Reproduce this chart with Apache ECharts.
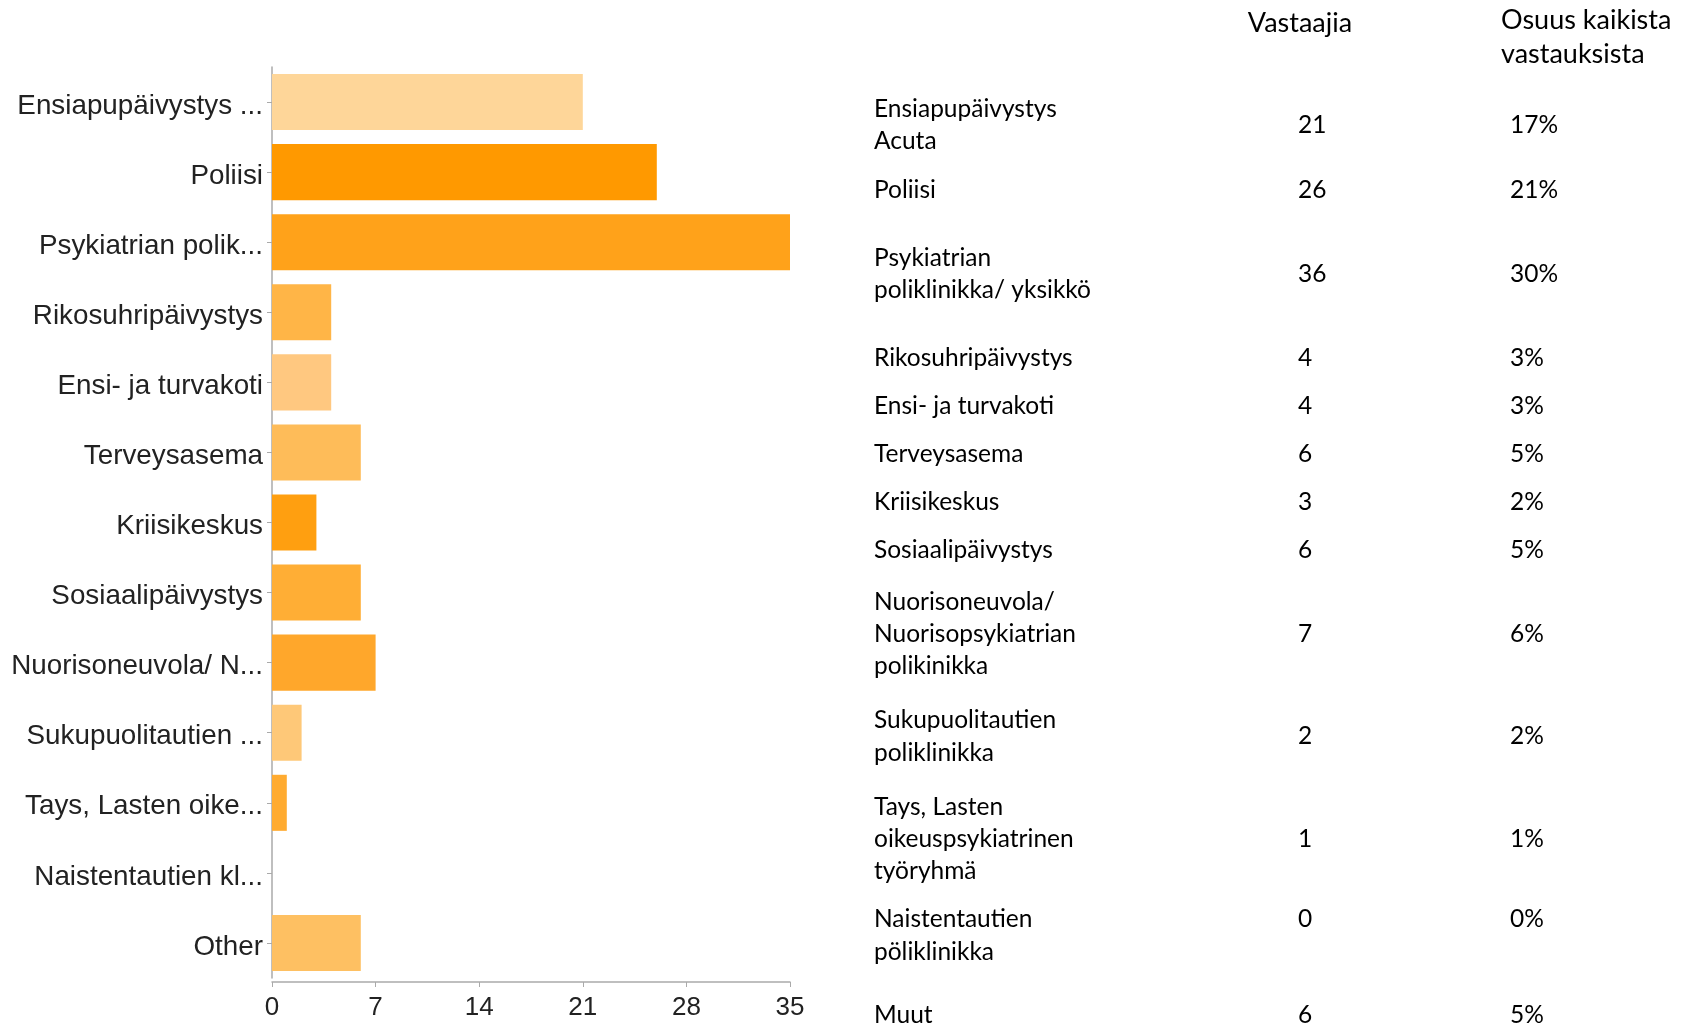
<!DOCTYPE html>
<html><head><meta charset="utf-8">
<script src="https://cdn.jsdelivr.net/npm/echarts@6/dist/echarts.min.js"></script>
<style>html,body{margin:0;padding:0;background:#fff}#c{width:1686px;height:1026px}</style>
</head><body><div id="c"></div>
<script>
// ---- data ----
const categories = ['Ensiapupäivystys ...', 'Poliisi', 'Psykiatrian polik...', 'Rikosuhripäivystys', 'Ensi- ja turvakoti', 'Terveysasema', 'Kriisikeskus', 'Sosiaalipäivystys', 'Nuorisoneuvola/ N...', 'Sukupuolitautien ...', 'Tays, Lasten oike...', 'Naistentautien kl...', 'Other'];
const counts = [21, 26, 36, 4, 4, 6, 3, 6, 7, 2, 1, 0, 6];
const barColors = ['#FED699', '#FF9900', '#FFA21A', '#FFB547', '#FFC880', '#FEBC59', '#FF9F10', '#FFAE35', '#FFA72B', '#FEC878', '#FFAB30', '#FEC062', '#FEC062'];
const xMin = 0, xMax = 35, xInterval = 7;

const tableHeaders = ['Vastaajia', 'Osuus kaikista\nvastauksista'];
const tableNames = ['Ensiapupäivystys\nAcuta', 'Poliisi', 'Psykiatrian\npoliklinikka/ yksikkö', 'Rikosuhripäivystys', 'Ensi- ja turvakoti', 'Terveysasema', 'Kriisikeskus', 'Sosiaalipäivystys', 'Nuorisoneuvola/\nNuorisopsykiatrian\npolikinikka', 'Sukupuolitautien\npoliklinikka', 'Tays, Lasten\noikeuspsykiatrinen\ntyöryhmä', 'Naistentautien\npöliklinikka', 'Muut'];
const tablePercents = ['17%', '21%', '30%', '3%', '3%', '5%', '2%', '5%', '6%', '2%', '1%', '0%', '5%'];

// ---- table layout (pixel rows) ----
const rowNameY  = [125, 190, 274, 358, 406, 454, 502, 550.5, 634, 736.5, 839, 935.5, 1015];
const rowValueY = [125, 190, 274, 358, 406, 454, 502, 550.5, 634, 736.5, 839, 919, 1015];
const colNameX = 874, colCountX = 1298, colPctX = 1510;
const tableFont = '24.5px Lato';
const headerFont = '27px Lato';
const lineH = 32.3;

const graphics = [];
graphics.push({type: 'text', x: 1300, y: 23, style: {text: tableHeaders[0], font: headerFont, fill: '#000', textAlign: 'center', textVerticalAlign: 'middle'}});
graphics.push({type: 'text', x: 1501, y: 37, style: {text: tableHeaders[1], font: headerFont, fill: '#000', textAlign: 'left', textVerticalAlign: 'middle', lineHeight: 34}});
tableNames.forEach((n, i) => {
  graphics.push({type: 'text', x: colNameX, y: rowNameY[i], style: {text: n, font: tableFont, fill: '#000', textAlign: 'left', textVerticalAlign: 'middle', lineHeight: lineH}});
  graphics.push({type: 'text', x: colCountX, y: rowValueY[i], style: {text: String(counts[i]), font: tableFont, fill: '#000', textAlign: 'left', textVerticalAlign: 'middle'}});
  graphics.push({type: 'text', x: colPctX, y: rowValueY[i], style: {text: tablePercents[i], font: tableFont, fill: '#000', textAlign: 'left', textVerticalAlign: 'middle'}});
});

const chart = echarts.init(document.getElementById('c'), null, {renderer: 'canvas'});
chart.setOption({
  animation: false,
  backgroundColor: '#fff',
  grid: {left: 272, right: 896, top: 67, bottom: 48, containLabel: false},
  xAxis: {
    type: 'value', min: xMin, max: xMax, interval: xInterval, offset: 4,
    axisLine: {show: true, lineStyle: {color: '#aaa', width: 1.5}},
    axisTick: {show: true, length: 5, lineStyle: {color: '#aaa'}},
    splitLine: {show: false},
    axisLabel: {margin: 13, fontFamily: 'Liberation Sans', fontSize: 26, color: '#222'}
  },
  yAxis: {
    type: 'category', data: categories, inverse: true,
    axisLine: {show: true, lineStyle: {color: '#aaa', width: 1.5}},
    axisTick: {show: true, length: 5, alignWithLabel: true, lineStyle: {color: '#aaa'}},
    axisLabel: {
      margin: 9,
      formatter: v => '{a|' + v + '}',
      rich: {a: {fontFamily: 'Liberation Sans', fontSize: 27.8, color: '#222', padding: [8, 0, 0, 0]}}
    }
  },
  series: [{
    type: 'bar', data: counts.map((v, i) => ({value: v, itemStyle: {color: barColors[i]}})),
    barCategoryGap: '20%', clip: true
  }],
  graphic: graphics
});
</script></body></html>
